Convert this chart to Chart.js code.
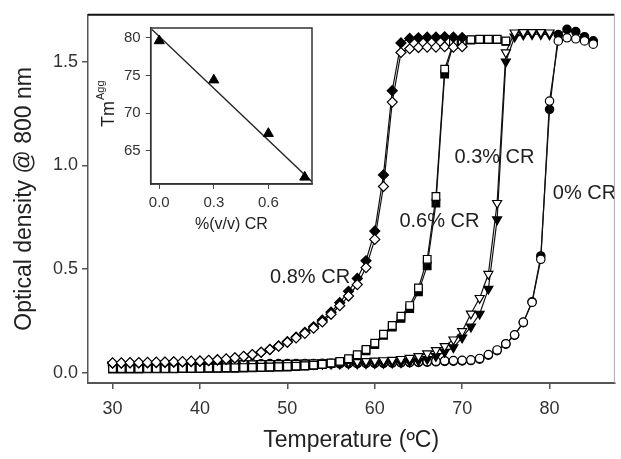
<!DOCTYPE html>
<html>
<head>
<meta charset="utf-8">
<script src="https://cdn.jsdelivr.net/npm/chart.js@4/dist/chart.umd.min.js"></script>
<style>
  body { margin: 0; background: #fff; }
  #wrap { position: relative; width: 621px; height: 459px; }
  #mainChart { position: absolute; left: 0; top: 0; }
  #insetChart { position: absolute; left: 95px; top: 14px; }
</style>
</head>
<body>
<div id="wrap">
  <canvas id="mainChart" width="621" height="459"></canvas>
  <canvas id="insetChart" width="230" height="222"></canvas>
</div>
<script>
// temperatures (ºC), one reading per degree
const temps = [30,31,32,33,34,35,36,37,38,39,40,41,42,43,44,45,46,47,48,49,50,51,52,53,54,55,56,57,58,59,60,61,62,63,64,65,66,67,68,69,70,71,72,73,74,75,76,77,78,79,80,81,82,83,84,85];

// optical density @ 800 nm
const cr08Open = [0.048,0.048,0.049,0.049,0.050,0.051,0.052,0.053,0.054,0.056,0.057,0.060,0.063,0.067,0.072,0.079,0.088,0.099,0.112,0.128,0.147,0.168,0.190,0.215,0.245,0.282,0.323,0.370,0.425,0.507,0.643,0.898,1.305,1.544,1.562,1.568,1.570,1.570,1.572,1.570,1.572];
const cr08Filled = [0.046,0.046,0.047,0.047,0.048,0.049,0.050,0.051,0.052,0.054,0.055,0.058,0.061,0.065,0.071,0.078,0.087,0.099,0.113,0.130,0.150,0.172,0.195,0.222,0.254,0.292,0.338,0.393,0.455,0.540,0.683,0.954,1.360,1.590,1.612,1.615,1.618,1.618,1.620,1.618,1.616];
const cr06Open = [0.020,0.020,0.020,0.020,0.021,0.021,0.021,0.021,0.022,0.022,0.022,0.023,0.023,0.024,0.024,0.025,0.026,0.027,0.028,0.029,0.030,0.032,0.034,0.037,0.041,0.047,0.055,0.068,0.087,0.112,0.143,0.186,0.228,0.273,0.324,0.409,0.547,0.850,1.464,1.590,1.600,1.606,1.608,1.608,1.608,1.600];
const cr06Filled = [0.018,0.018,0.018,0.018,0.019,0.019,0.019,0.019,0.020,0.020,0.020,0.021,0.021,0.022,0.022,0.023,0.024,0.025,0.026,0.027,0.028,0.030,0.032,0.035,0.039,0.044,0.052,0.064,0.082,0.106,0.136,0.180,0.220,0.262,0.310,0.390,0.515,0.818,1.440,1.585,1.598,1.604,1.606,1.606,1.606,1.598];
const cr03Open = [0.040,0.040,0.041,0.041,0.041,0.042,0.042,0.042,0.043,0.043,0.043,0.044,0.044,0.044,0.045,0.045,0.045,0.046,0.046,0.046,0.047,0.047,0.048,0.049,0.050,0.051,0.052,0.053,0.054,0.056,0.058,0.060,0.062,0.066,0.071,0.080,0.093,0.109,0.128,0.160,0.200,0.285,0.360,0.476,0.818,1.544,1.640,1.642,1.642,1.642,1.640];
const cr03Filled = [0.034,0.034,0.035,0.035,0.035,0.036,0.036,0.036,0.037,0.037,0.037,0.038,0.038,0.038,0.039,0.039,0.039,0.040,0.040,0.040,0.041,0.041,0.041,0.042,0.042,0.043,0.043,0.044,0.044,0.045,0.046,0.047,0.048,0.050,0.053,0.058,0.066,0.080,0.100,0.122,0.169,0.222,0.284,0.404,0.739,1.500,1.620,1.630,1.632,1.632,1.630];
const cr00Open = [0.038,0.038,0.038,0.039,0.039,0.039,0.040,0.040,0.040,0.041,0.041,0.041,0.042,0.042,0.042,0.043,0.043,0.043,0.044,0.044,0.044,0.045,0.045,0.045,0.046,0.046,0.046,0.047,0.047,0.048,0.048,0.049,0.050,0.051,0.052,0.053,0.054,0.056,0.058,0.059,0.060,0.062,0.069,0.088,0.110,0.140,0.183,0.244,0.340,0.547,1.310,1.600,1.615,1.610,1.600,1.584];
const cr00Filled = [0.035,0.035,0.035,0.036,0.036,0.036,0.037,0.037,0.037,0.038,0.038,0.038,0.039,0.039,0.039,0.040,0.040,0.040,0.041,0.041,0.041,0.042,0.042,0.042,0.043,0.043,0.043,0.044,0.044,0.045,0.045,0.046,0.047,0.048,0.049,0.050,0.051,0.053,0.055,0.056,0.057,0.059,0.066,0.085,0.107,0.138,0.181,0.242,0.342,0.563,1.270,1.630,1.656,1.645,1.620,1.600];

const xTicks = [30, 40, 50, 60, 70, 80];
const yTicks = [0, 0.5, 1.0, 1.5];

// inset: Tm(Agg) vs % CR
const insetConc = [0, 0.3, 0.6, 0.8];
const insetTm = [79.6, 74.4, 67.3, 61.5];
const fitConc = [-0.04, 0.84];
const fitTm = [81.1, 60.9];
const insetXTicks = [0, 0.3, 0.6];
const insetYTicks = [65, 70, 75, 80];

Chart.defaults.font.family = '"Liberation Sans", Arial, sans-serif';
Chart.defaults.color = '#222';

const pts = (xs, ys) => ys.map((v, i) => ({ x: xs[i], y: v }));

const series = (vals, style, filled, radius, rot) => ({
  data: pts(temps, vals),
  borderColor: '#111',
  borderWidth: 1.2,
  pointStyle: style,
  pointRotation: rot || 0,
  pointRadius: radius,
  pointBackgroundColor: filled ? '#000' : '#fff',
  pointBorderColor: '#000',
  pointBorderWidth: 1.2,
  tension: 0
});

const boxPlugin = {
  id: 'box',
  afterDraw(chart, args, opts) {
    const { ctx, chartArea: a } = chart;
    ctx.save();
    if (opts.full) {
      ctx.strokeStyle = '#333';
      ctx.lineWidth = 1.5;
      ctx.strokeRect(a.left, a.top, a.right - a.left, a.bottom - a.top);
    } else {
      ctx.strokeStyle = '#111';
      ctx.lineWidth = 2;
      ctx.beginPath();
      ctx.moveTo(a.left, a.top);
      ctx.lineTo(a.right, a.top);
      ctx.stroke();
      ctx.strokeStyle = '#aaa';
      ctx.lineWidth = 1;
      ctx.beginPath();
      ctx.moveTo(a.right, a.top);
      ctx.lineTo(a.right, a.bottom);
      ctx.stroke();
    }
    ctx.restore();
  }
};

const curveLabels = {
  id: 'curveLabels',
  afterDatasetsDraw(chart) {
    const { ctx, scales } = chart;
    const items = [
      ['0.8% CR', 52.6, 0.458],
      ['0.6% CR', 67.4, 0.73],
      ['0.3% CR', 73.7, 1.037],
      ['0% CR', 84.0, 0.865]
    ];
    ctx.save();
    ctx.font = '20px "Liberation Sans", Arial, sans-serif';
    ctx.fillStyle = '#222';
    ctx.textAlign = 'center';
    ctx.textBaseline = 'middle';
    items.forEach(([t, x, y]) => {
      ctx.fillText(t, scales.x.getPixelForValue(x), scales.y.getPixelForValue(y));
    });
    ctx.restore();
  }
};

new Chart(document.getElementById('mainChart'), {
  type: 'line',
  data: {
    datasets: [
      series(cr08Open, 'rectRot', false, 5),
      series(cr08Filled, 'rectRot', true, 5),
      series(cr06Open, 'rect', false, 5.4),
      series(cr06Filled, 'rect', true, 5.4),
      series(cr03Open, 'triangle', false, 5.2, 180),
      series(cr03Filled, 'triangle', true, 5.2, 180),
      series(cr00Open, 'circle', false, 4.2),
      series(cr00Filled, 'circle', true, 4.2)
    ]
  },
  options: {
    responsive: false,
    animation: false,
    devicePixelRatio: 1,
    layout: { padding: { top: 12, right: 3, left: 0, bottom: 0 } },
    plugins: {
      legend: { display: false },
      tooltip: { enabled: false },
      box: { full: false }
    },
    scales: {
      x: {
        type: 'linear',
        min: 27.19,
        max: 87.42,
        afterBuildTicks: s => { s.ticks = xTicks.map(v => ({ value: v })); },
        afterFit: s => { s.height = 76; },
        ticks: { font: { size: 18 }, color: '#333', padding: 9 },
        grid: { drawOnChartArea: false, drawTicks: true, tickLength: 6, color: '#555', lineWidth: 1.5 },
        border: { display: true, color: '#555', width: 2 },
        title: { display: true, text: 'Temperature (ºC)', font: { size: 23 }, color: '#222', padding: { top: 0, bottom: 5 } }
      },
      y: {
        type: 'linear',
        min: -0.0493,
        max: 1.7258,
        afterBuildTicks: s => { s.ticks = yTicks.map(v => ({ value: v })); },
        afterFit: s => { s.width = 88; },
        ticks: { font: { size: 18 }, color: '#333', padding: 4, callback: v => v.toFixed(1) },
        grid: { drawOnChartArea: false, drawTicks: true, tickLength: 6, color: '#555', lineWidth: 1.5 },
        border: { display: true, color: '#555', width: 1.5 },
        title: { display: true, text: 'Optical density @ 800 nm', font: { size: 23 }, color: '#222', padding: { top: 11, bottom: 0 } }
      }
    }
  },
  plugins: [boxPlugin, curveLabels]
});

const tmLabel = {
  id: 'tmLabel',
  afterDraw(chart) {
    const { ctx } = chart;
    ctx.save();
    ctx.translate(19, 113);
    ctx.rotate(-Math.PI / 2);
    ctx.fillStyle = '#222';
    ctx.textBaseline = 'alphabetic';
    ctx.textAlign = 'left';
    ctx.font = '18px "Liberation Sans", Arial, sans-serif';
    ctx.fillText('Tm', 0, 0);
    const w = ctx.measureText('Tm').width;
    ctx.font = '11px "Liberation Sans", Arial, sans-serif';
    ctx.fillText('Agg', w + 1, -10);
    ctx.restore();
  }
};

new Chart(document.getElementById('insetChart'), {
  type: 'scatter',
  data: {
    datasets: [
      {
        data: pts(insetConc, insetTm),
        pointStyle: 'triangle',
        pointRadius: 5.8,
        pointBackgroundColor: '#000',
        pointBorderColor: '#000',
        showLine: false
      },
      {
        data: pts(fitConc, fitTm),
        showLine: true,
        borderColor: '#222',
        borderWidth: 1.3,
        pointRadius: 0
      }
    ]
  },
  options: {
    responsive: false,
    animation: false,
    devicePixelRatio: 1,
    layout: { padding: { top: 11, right: 13, left: 0, bottom: 0 } },
    plugins: {
      legend: { display: false },
      tooltip: { enabled: false },
      box: { full: true }
    },
    scales: {
      x: {
        type: 'linear',
        min: -0.047,
        max: 0.84,
        afterBuildTicks: s => { s.ticks = insetXTicks.map(v => ({ value: v })); },
        afterFit: s => { s.height = 52; },
        ticks: { font: { size: 15 }, color: '#333', padding: 5, callback: v => v.toFixed(1) },
        grid: { drawOnChartArea: false, drawTicks: true, tickLength: 5, color: '#444' },
        border: { display: true, color: '#333', width: 1.5 },
        title: { display: true, text: '%(v/v) CR', font: { size: 16 }, color: '#222', padding: { top: 0, bottom: 2 } }
      },
      y: {
        type: 'linear',
        min: 60.6,
        max: 81.3,
        afterBuildTicks: s => { s.ticks = insetYTicks.map(v => ({ value: v })); },
        afterFit: s => { s.width = 55.7; },
        ticks: { font: { size: 15 }, color: '#333', padding: 5 },
        grid: { drawOnChartArea: false, drawTicks: true, tickLength: 5, color: '#444' },
        border: { display: true, color: '#333', width: 1.5 }
      }
    }
  },
  plugins: [boxPlugin, tmLabel]
});
</script>
</body>
</html>
